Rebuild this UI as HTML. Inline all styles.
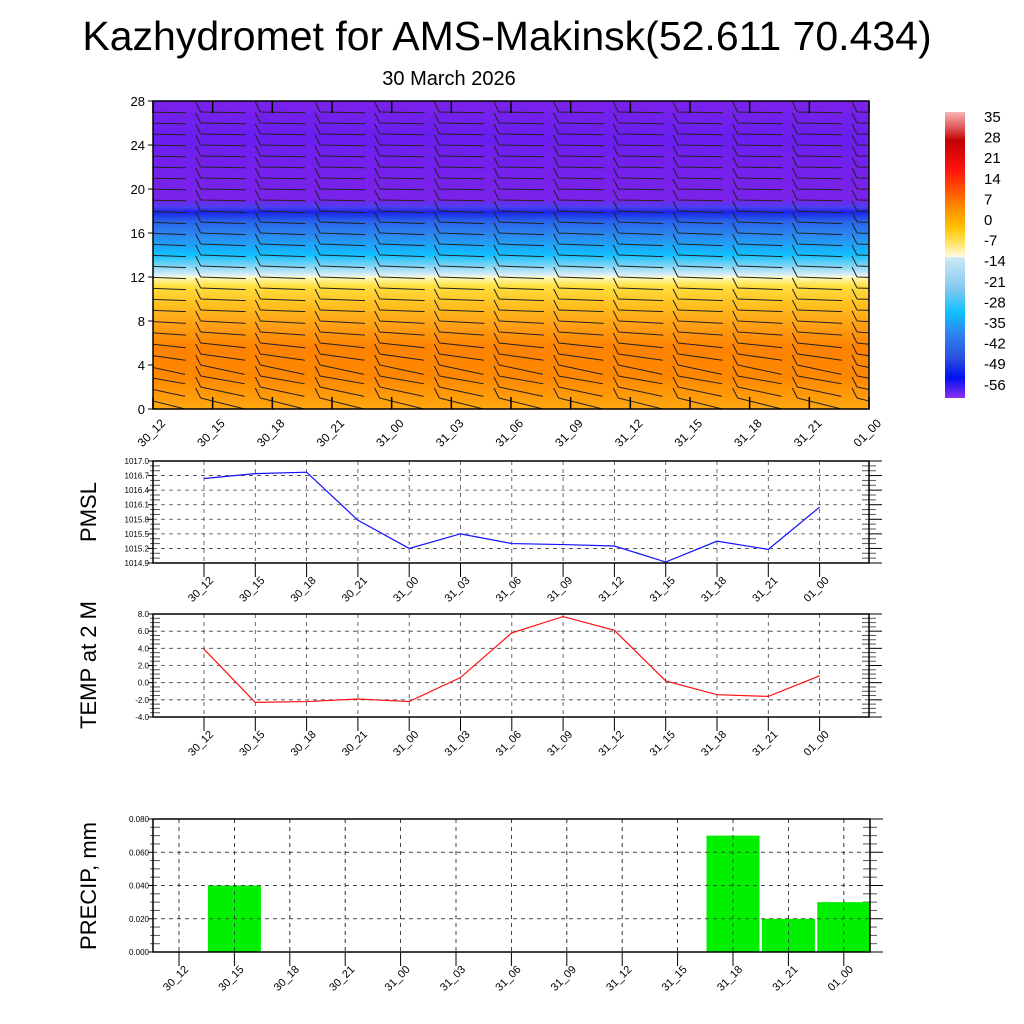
<!DOCTYPE html>
<html><head><meta charset="utf-8"><style>
html,body{margin:0;padding:0;background:#fff}
svg{display:block;font-family:"Liberation Sans",Arial,sans-serif}
</style></head><body>
<svg id="s" width="1024" height="1024" viewBox="0 0 1024 1024" xmlns="http://www.w3.org/2000/svg">
<defs>
<clipPath id="clipTop"><rect x="153" y="101" width="716" height="308"/></clipPath>
<linearGradient id="tg" x1="0" y1="0" x2="0" y2="1">
<stop offset="0" stop-color="#7b22ea"/>
<stop offset="0.12" stop-color="#6a1ef0"/>
<stop offset="0.2" stop-color="#7420ec"/>
<stop offset="0.32" stop-color="#7a22ea"/>
<stop offset="0.345" stop-color="#4a40f0"/>
<stop offset="0.36" stop-color="#1a22e8"/>
<stop offset="0.39" stop-color="#2a62ea"/>
<stop offset="0.44" stop-color="#2a8cf0"/>
<stop offset="0.5" stop-color="#10c0ff"/>
<stop offset="0.54" stop-color="#90d8f4"/>
<stop offset="0.567" stop-color="#e0f2f8"/>
<stop offset="0.57" stop-color="#fffcc8"/>
<stop offset="0.6" stop-color="#ffe040"/>
<stop offset="0.66" stop-color="#ffc020"/>
<stop offset="0.74" stop-color="#ff9a10"/>
<stop offset="0.8" stop-color="#ff8200"/>
<stop offset="0.9" stop-color="#ff8800"/>
<stop offset="1" stop-color="#ffa810"/>
</linearGradient>
<linearGradient id="cb" x1="0" y1="0" x2="0" y2="1">
<stop offset="0" stop-color="#f8b4b4"/>
<stop offset="0.05" stop-color="#e06060"/>
<stop offset="0.1" stop-color="#c00000"/>
<stop offset="0.2" stop-color="#ff1010"/>
<stop offset="0.27" stop-color="#ff5000"/>
<stop offset="0.34" stop-color="#ff9000"/>
<stop offset="0.4" stop-color="#ffc000"/>
<stop offset="0.45" stop-color="#ffe050"/>
<stop offset="0.505" stop-color="#fffbe0"/>
<stop offset="0.51" stop-color="#cce8f6"/>
<stop offset="0.62" stop-color="#80c8f0"/>
<stop offset="0.7" stop-color="#10c0ff"/>
<stop offset="0.78" stop-color="#3080ee"/>
<stop offset="0.86" stop-color="#2a50e0"/>
<stop offset="0.93" stop-color="#0010f0"/>
<stop offset="1" stop-color="#8a30f0"/>
</linearGradient>
</defs>
<text x="507" y="50" font-size="41" text-anchor="middle">Kazhydromet for AMS-Makinsk(52.611 70.434)</text>
<text x="449" y="85" font-size="20" text-anchor="middle">30 March 2026</text>
<rect x="153" y="101" width="716" height="308" fill="url(#tg)"/>
<g id="barbs" clip-path="url(#clipTop)"></g>
<rect x="153" y="101" width="716" height="308" fill="none" stroke="#000" stroke-width="1.5"/>
<g id="topaxes"></g>
<rect x="945" y="112" width="20" height="286" fill="url(#cb)"/>
<g id="cblab"></g>
<g id="pmsl"></g>
<g id="temp"></g>
<g id="precip"></g>
</svg>
<script>
const categories=["30_12","30_15","30_18","30_21","31_00","31_03","31_06","31_09","31_12","31_15","31_18","31_21","01_00"];
const pmslValues=[1016.64,1016.74,1016.77,1015.78,1015.2,1015.5,1015.3,1015.28,1015.25,1014.92,1015.35,1015.18,1016.05];
const pmslTicks=["1014.9","1015.2","1015.5","1015.8","1016.1","1016.4","1016.7","1017.0"];
const tempValues=[3.9,-2.3,-2.2,-1.9,-2.2,0.6,5.8,7.7,6.1,0.2,-1.4,-1.6,0.8];
const tempTicks=["-4.0","-2.0","0.0","2.0","4.0","6.0","8.0"];
const precipValues=[0,0.04,0,0,0,0,0,0,0,0,0.07,0.02,0.03];
const precipTicks=["0.000","0.020","0.040","0.060","0.080"];
const heightTicks=["0","4","8","12","16","20","24","28"];
const colorbarLabels=["35","28","21","14","7","0","-7","-14","-21","-28","-35","-42","-49","-56"];
const barbLevels=[1,2,3,4,5,6,7,8,9,10,11,12,13,14,15,16,17,18,19,20,21,22,23,24,25,26,27];
const barbAngle=[-14,-12,-10,-12,-8,-6,-4,-3,-2,-2,-2,-2,-2,-2,-2,-2,-2,-2,-1,-1,-1,-1,-1,-1,-1,-1,-1];
const NS="http://www.w3.org/2000/svg";
function mk(p,t,a){const e=document.createElementNS(NS,t);for(const k in a)e.setAttribute(k,a[k]);p.appendChild(e);return e;}
const T={l:153,r:869,t:101,b:409,ymax:28};
const tx=i=>T.l+i*(T.r-T.l)/12, ty=v=>T.b-v/T.ymax*(T.b-T.t);
const bg=document.getElementById('barbs');
categories.forEach((c,i)=>{barbLevels.forEach((lv,j)=>{
 const x=tx(i),y=ty(lv),a=barbAngle[j]*Math.PI/180,L=45;
 const x0=x-12,x2=x0+L*Math.cos(a),y2=y-L*Math.sin(a);
 const ln=mk(bg,'path',{d:`M${x0} ${y} L${x2} ${y2} M${x0} ${y} L${x0-5} ${y-10}`,stroke:'#222','stroke-width':1,fill:'none'});
 
 
});});
const ta=document.getElementById('topaxes');
heightTicks.forEach(v=>{const y=ty(+v);
 mk(ta,'line',{x1:T.l-5,y1:y,x2:T.l,y2:y,stroke:'#000'});
 const t=mk(ta,'text',{x:T.l-8,y:y+5,'font-size':13,'text-anchor':'end'});t.textContent=v;
 
 
});
categories.forEach((c,i)=>{const x=tx(i);
 mk(ta,'line',{x1:x,y1:T.b,x2:x,y2:T.b-12,stroke:'#000','stroke-width':1.5});
 mk(ta,'line',{x1:x,y1:T.t,x2:x,y2:T.t+12,stroke:'#000','stroke-width':1.5});
 const t=mk(ta,'text',{x:x+13,y:T.b+15,'font-size':12,'text-anchor':'end',transform:`rotate(-45 ${x+13} ${T.b+15})`});t.textContent=c;
 
 
});
const cl=document.getElementById('cblab');
colorbarLabels.forEach((v,i)=>{const t=mk(cl,'text',{x:984,y:122+i*20.6,'font-size':15});t.textContent=v;
 
 });
function panel(gid,P,ticks,title,titleY){
 const g=document.getElementById(gid);
 const X=i=>P.x0+i*P.dx, Y=v=>P.b-(v-P.min)/(P.max-P.min)*(P.b-P.t);
 const nt=ticks.length;
 ticks.forEach((s,k)=>{const y=Y(+s);
  if(k>0&&k<nt-1)mk(g,'line',{x1:P.l,y1:y,x2:P.r,y2:y,stroke:'#444','stroke-dasharray':'4 4','stroke-width':0.8});
  mk(g,'line',{x1:P.l-5,y1:y,x2:P.l,y2:y,stroke:'#000'});
  mk(g,'line',{x1:P.r,y1:y,x2:P.r+13,y2:y,stroke:'#000'});
  const t=mk(g,'text',{x:P.l-4,y:y+3,'font-size':P.fs,'text-anchor':'end'});t.textContent=s;
  
  
  if(k<nt-1){for(let m=1;m<P.minor;m++){const ym=y-(m/P.minor)*(Y(+ticks[0])-Y(+ticks[1]));
   mk(g,'line',{x1:P.l,y1:ym,x2:P.l+7,y2:ym,stroke:'#555'});mk(g,'line',{x1:P.r-7,y1:ym,x2:P.r,y2:ym,stroke:'#555'});
   mk(g,'line',{x1:P.l-3,y1:ym,x2:P.l,y2:ym,stroke:'#555'});mk(g,'line',{x1:P.r,y1:ym,x2:P.r+7,y2:ym,stroke:'#555'});}}
 });
 categories.forEach((c,i)=>{const x=X(i);
  mk(g,'line',{x1:x,y1:P.t,x2:x,y2:P.b,stroke:'#444','stroke-dasharray':'4 4','stroke-width':0.8});
  mk(g,'line',{x1:x,y1:P.b,x2:x,y2:P.b+14,stroke:'#000'});
  const t=mk(g,'text',{x:x+10,y:P.b+18,'font-size':11,'text-anchor':'end',transform:`rotate(-45 ${x+10} ${P.b+18})`});t.textContent=c;
  
  
 });
 const tt=mk(g,'text',{x:96,y:titleY,'font-size':22,'text-anchor':'middle',transform:`rotate(-90 96 ${titleY})`});tt.textContent=title;
 
 
 return {g,X,Y};
}
function frame(g,P){const f=mk(g,'rect',{x:P.l,y:P.t,width:P.r-P.l,height:P.b-P.t,fill:'none',stroke:'#000','stroke-width':1.5});
 
 }
const P1={l:153,r:869,t:461,b:563,x0:204,dx:51.3,min:1014.9,max:1017.0,fs:8,minor:3};
const a1=panel('pmsl',P1,pmslTicks,'PMSL',512);
const l1=mk(a1.g,'polyline',{points:pmslValues.map((v,i)=>a1.X(i)+','+a1.Y(v)).join(' '),fill:'none',stroke:'#1010ff','stroke-width':1.2});


frame(a1.g,P1);
const P2={l:153,r:869,t:614,b:717,x0:204,dx:51.3,min:-4,max:8,fs:8,minor:4};
const a2=panel('temp',P2,tempTicks,'TEMP at 2 M',665);
const l2=mk(a2.g,'polyline',{points:tempValues.map((v,i)=>a2.X(i)+','+a2.Y(v)).join(' '),fill:'none',stroke:'#ff1010','stroke-width':1.2});


frame(a2.g,P2);
const P3={l:153,r:870,t:819,b:952,x0:179,dx:55.4,min:0,max:0.08,fs:8,minor:4};
const a3=panel('precip',P3,precipTicks,'PRECIP, mm',886);
precipValues.forEach((v,i)=>{if(v<=0)return;const x=a3.X(i),w=53;
 const r=mk(a3.g,'rect',{x:x-w/2,y:a3.Y(v),width:Math.min(w,P3.r-(x-w/2)),height:P3.b-a3.Y(v),fill:'#00f000'});
 
 
});
categories.forEach((c,i)=>{const x=a3.X(i);mk(a3.g,'line',{x1:x,y1:P3.t,x2:x,y2:P3.b,stroke:'#333','stroke-dasharray':'4 4','stroke-width':0.8});});
precipTicks.slice(1,-1).forEach(s=>{const y=a3.Y(+s);mk(a3.g,'line',{x1:P3.l,y1:y,x2:P3.r,y2:y,stroke:'#333','stroke-dasharray':'4 4','stroke-width':0.8});});
frame(a3.g,P3);
</script>
</body></html>
